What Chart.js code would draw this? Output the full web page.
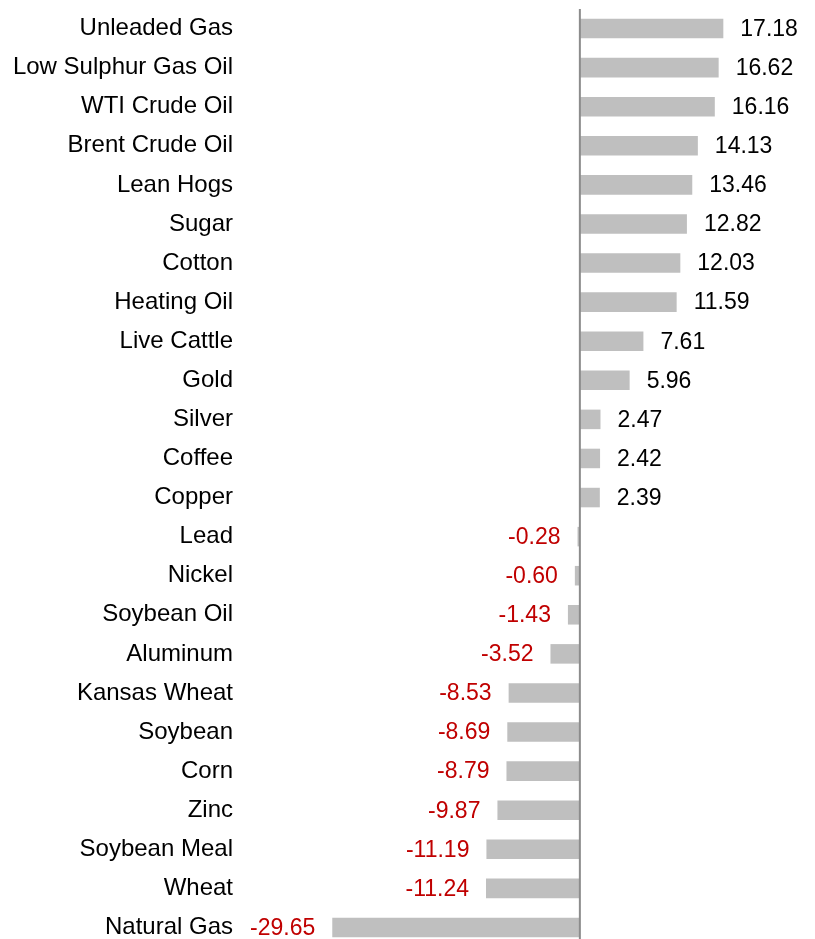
<!DOCTYPE html>
<html>
<head>
<meta charset="utf-8">
<script src="https://cdn.jsdelivr.net/npm/chart.js@4.4.1/dist/chart.umd.min.js"></script>
<style>
  html, body { margin: 0; padding: 0; background: #fff; overflow: hidden; }
  #wrap { width: 815px; height: 939px; overflow: hidden; }
  canvas { display: block; }
</style>
</head>
<body>
<div id="wrap"><canvas id="c" width="815" height="947"></canvas></div>
<script>
const categories = [
  "Unleaded Gas", "Low Sulphur Gas Oil", "WTI Crude Oil", "Brent Crude Oil",
  "Lean Hogs", "Sugar", "Cotton", "Heating Oil", "Live Cattle", "Gold",
  "Silver", "Coffee", "Copper", "Lead", "Nickel", "Soybean Oil", "Aluminum",
  "Kansas Wheat", "Soybean", "Corn", "Zinc", "Soybean Meal", "Wheat", "Natural Gas"
];
const values = [
  17.18, 16.62, 16.16, 14.13, 13.46, 12.82, 12.03, 11.59, 7.61, 5.96,
  2.47, 2.42, 2.39, -0.28, -0.60, -1.43, -3.52, -8.53, -8.69, -8.79,
  -9.87, -11.19, -11.24, -29.65
];

const FONT = "Liberation Sans, Arial, sans-serif";

const valueLabels = {
  id: 'valueLabels',
  afterDatasetsDraw(chart) {
    const ctx = chart.ctx;
    const meta = chart.getDatasetMeta(0);
    const xs = chart.scales.x;
    const zero = xs.getPixelForValue(0);
    ctx.save();
    // zero line
    ctx.strokeStyle = '#8c8c8c';
    ctx.lineWidth = 2;
    ctx.beginPath();
    ctx.moveTo(zero, chart.chartArea.top);
    ctx.lineTo(zero, chart.chartArea.bottom);
    ctx.stroke();
    ctx.font = '23px ' + FONT;
    ctx.textBaseline = 'middle';
    meta.data.forEach((bar, i) => {
      const v = values[i];
      const txt = v.toFixed(2);
      if (v >= 0) {
        ctx.fillStyle = '#000000';
        ctx.textAlign = 'left';
        ctx.fillText(txt, bar.x + 17, bar.y + 1);
      } else {
        ctx.fillStyle = '#C00000';
        ctx.textAlign = 'right';
        ctx.fillText(txt, bar.x - 17, bar.y + 1);
      }
    });
    ctx.restore();
  }
};

new Chart(document.getElementById('c'), {
  type: 'bar',
  data: {
    labels: categories,
    datasets: [{
      data: values,
      backgroundColor: '#BFBFBF',
      borderWidth: 0,
      barPercentage: 0.5,
      categoryPercentage: 1.0
    }]
  },
  options: {
    indexAxis: 'y',
    responsive: false,
    animation: false,
    devicePixelRatio: 1,
    layout: { padding: { top: 9, right: 8, left: 0, bottom: 0 } },
    plugins: {
      legend: { display: false },
      tooltip: { enabled: false }
    },
    scales: {
      x: {
        display: false,
        min: -40.7,
        max: 27.2
      },
      y: {
        grid: { display: false, drawTicks: false },
        border: { display: false },
        ticks: {
          color: '#000000',
          padding: 7,
          font: { family: FONT, size: 24 }
        },
        afterFit(scale) {
          scale.width = 240;
          scale.paddingTop = 0;
          scale.paddingBottom = 0;
        }
      }
    }
  },
  plugins: [valueLabels]
});
</script>
</body>
</html>
